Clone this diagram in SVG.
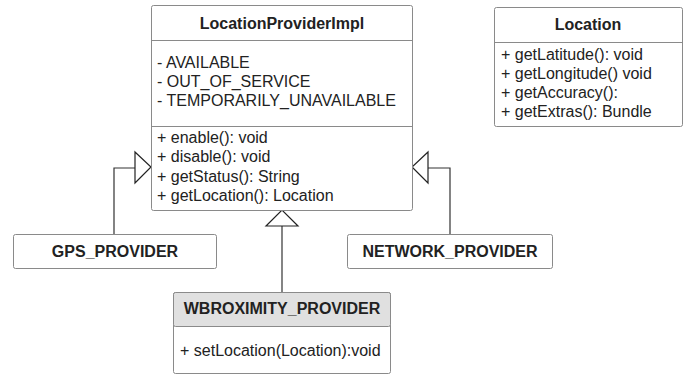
<svg xmlns="http://www.w3.org/2000/svg" width="686" height="375" viewBox="0 0 686 375">
  <style>
    .box { fill: #ffffff; stroke: #8a8a8a; stroke-width: 1; }
    .hdr { fill: #e0e0e0; stroke: #8a8a8a; stroke-width: 1; }
    .sep { stroke: #8a8a8a; stroke-width: 1; }
    .t { font-family: "Liberation Sans", Arial, sans-serif; font-size: 16px; fill: #222222; }
    .b { font-weight: bold; text-anchor: middle; }
    .edge { fill: none; stroke: #333333; stroke-width: 1.2; }
    .head { fill: #ffffff; stroke: #222222; stroke-width: 1.2; }
  </style>

  <!-- generalization connectors -->
  <g id="connectors">
    <polyline class="edge" points="114,234 114,168 135,168"/>
    <polygon class="head" points="135,152 151,167 135,183"/>
    <polyline class="edge" points="450,234 450,168 428,168"/>
    <polygon class="head" points="428,152 412,167 428,183"/>
    <line class="edge" x1="282" y1="292" x2="282" y2="226"/>
    <polygon class="head" points="266,226 282,210 298,226"/>
  </g>

  <g id="LocationProviderImpl">
    <rect class="box" x="151.5" y="5.5" width="261" height="205" rx="2"/>
    <line class="sep" x1="151.5" y1="40.5" x2="412.5" y2="40.5"/>
    <line class="sep" x1="151.5" y1="126.5" x2="412.5" y2="126.5"/>
    <text class="t b" x="282" y="29">LocationProviderImpl</text>
    <text class="t" x="157" y="68">- AVAILABLE</text>
    <text class="t" x="157" y="87">- OUT_OF_SERVICE</text>
    <text class="t" x="157" y="106">- TEMPORARILY_UNAVAILABLE</text>
    <text class="t" x="157" y="143">+ enable(): void</text>
    <text class="t" x="157" y="162">+ disable(): void</text>
    <text class="t" x="157" y="182">+ getStatus(): String</text>
    <text class="t" x="157" y="201">+ getLocation(): Location</text>
  </g>

  <g id="Location">
    <rect class="box" x="494.5" y="7.5" width="188" height="119" rx="2"/>
    <line class="sep" x1="494.5" y1="42.5" x2="682.5" y2="42.5"/>
    <text class="t b" x="588" y="30">Location</text>
    <text class="t" x="501" y="60">+ getLatitude(): void</text>
    <text class="t" x="501" y="79">+ getLongitude() void</text>
    <text class="t" x="501" y="98">+ getAccuracy():</text>
    <text class="t" x="501" y="117">+ getExtras(): Bundle</text>
  </g>

  <g id="GPS_PROVIDER">
    <rect class="box" x="13.5" y="234.5" width="203" height="34" rx="2"/>
    <text class="t b" x="115" y="257">GPS_PROVIDER</text>
  </g>

  <g id="NETWORK_PROVIDER">
    <rect class="box" x="347.5" y="234.5" width="205" height="34" rx="2"/>
    <text class="t b" x="450" y="257">NETWORK_PROVIDER</text>
  </g>

  <g id="WBROXIMITY_PROVIDER">
    <rect class="box" x="173.5" y="292.5" width="217" height="81" rx="2"/>
    <rect class="hdr" x="173.5" y="292.5" width="217" height="34" rx="2"/>
    <text class="t b" x="282" y="314">WBROXIMITY_PROVIDER</text>
    <text class="t" x="180" y="356">+ setLocation(Location):void</text>
  </g>
</svg>
